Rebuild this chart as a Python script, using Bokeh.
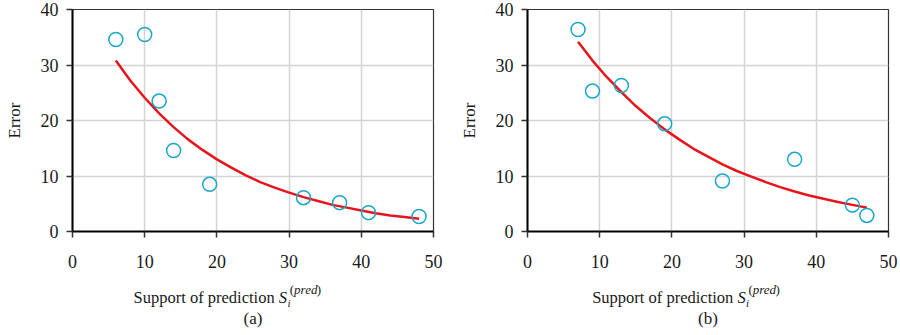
from bokeh.plotting import figure
from bokeh.layouts import row, column
from bokeh.models import Range1d, FixedTicker
from bokeh.core.properties import value
from bokeh.embed import file_html
from bokeh.resources import INLINE

# ---- data (a) ----
a_x = [6, 10, 12, 14, 19, 32, 37, 41, 48]
a_y = [34.6, 35.5, 23.5, 14.6, 8.5, 6.1, 5.2, 3.4, 2.7]
a_fit_x = [6, 8, 10, 12, 14, 16, 18, 20, 22, 24, 26, 28, 30, 32, 34, 36, 38, 40, 42, 44, 46, 48]
a_fit_y = [30.8, 27.2, 24.1, 21.3, 18.8, 16.6, 14.7, 13.0, 11.5, 10.1, 8.9, 7.9, 7.0, 6.2, 5.5,
           4.8, 4.3, 3.8, 3.3, 2.9, 2.6, 2.3]

# ---- data (b) ----
b_x = [7, 9, 13, 19, 27, 37, 45, 47]
b_y = [36.4, 25.3, 26.3, 19.4, 9.1, 13.0, 4.75, 2.9]
b_fit_x = [7, 9, 11, 13, 15, 17, 19, 21, 23, 25, 27, 29, 31, 33, 35, 37, 39, 41, 43, 45, 47]
b_fit_y = [34.2, 30.8, 27.8, 25.1, 22.6, 20.4, 18.4, 16.6, 14.9, 13.5, 12.1, 10.9, 9.9, 8.9,
           8.0, 7.2, 6.5, 5.9, 5.3, 4.8, 4.3]

x_ticks = [0, 10, 20, 30, 40, 50]
y_ticks = [0, 10, 20, 30, 40]
panel_tags = ["(a)", "(b)"]
x_label_words = "Support of prediction"

FONT = "Liberation Serif"
TXT = "#1a1a1a"
MAIN_H = 272
LAB_H = 335 - MAIN_H


def make_panel(xs, ys, fx, fy, tag, left, right, text_x0):
    xr = Range1d(0, 50)
    p = figure(width=450, height=MAIN_H, output_backend="svg", toolbar_location=None,
               x_range=xr, y_range=Range1d(0, 40),
               min_border_left=left, min_border_right=right,
               min_border_top=9, min_border_bottom=MAIN_H - 9 - 222)
    p.outline_line_color = "#333333"
    p.outline_line_width = 1.2

    for ax in (p.xaxis[0], p.yaxis[0]):
        ax.axis_line_color = "black"
        ax.axis_line_width = 2
        ax.major_tick_line_color = "#333333"
        ax.major_tick_line_width = 1.5
        ax.major_tick_in = 0
        ax.major_tick_out = 6
        ax.minor_tick_line_color = None
        ax.major_label_text_font = FONT
        ax.major_label_text_font_size = "18px"
        ax.major_label_text_color = TXT

    p.xaxis.ticker = FixedTicker(ticks=x_ticks)
    p.yaxis.ticker = FixedTicker(ticks=y_ticks)
    p.xaxis.major_label_standoff = 17
    p.yaxis.major_label_standoff = 8

    p.yaxis.axis_label = "Error"
    p.yaxis.axis_label_text_font = FONT
    p.yaxis.axis_label_text_font_style = "normal"
    p.yaxis.axis_label_text_font_size = "17px"
    p.yaxis.axis_label_text_color = TXT
    p.yaxis.axis_label_standoff = 14

    p.xgrid.ticker = FixedTicker(ticks=x_ticks)
    p.ygrid.ticker = FixedTicker(ticks=y_ticks)
    p.grid.grid_line_color = "#d4d4d4"
    p.grid.grid_line_width = 1.5

    p.line(fx, fy, line_color="#e8141c", line_width=2.5)
    p.scatter(xs, ys, marker="circle", size=14, fill_color=None,
              line_color="#1ba6c9", line_width=1.5)

    # label strip below: shares the x range, y in pixels from its top
    lab = figure(width=450, height=LAB_H, output_backend="svg", toolbar_location=None,
                 x_range=xr, y_range=Range1d(LAB_H, 0),
                 x_axis_location=None, y_axis_location=None,
                 min_border_left=left, min_border_right=right,
                 min_border_top=0, min_border_bottom=0)
    lab.grid.visible = False
    lab.outline_line_color = None

    fs = 16.5
    px_per_x = 361 / 50.0
    main_w = 8.805 * fs
    s_x = text_x0 + main_w / px_per_x
    pieces = [
        (text_x0, 25, x_label_words, "normal", "16.5px"),
        (s_x, 25, "S", "italic", "16.5px"),
        (s_x + 8.6 / px_per_x, 30, "i", "italic", "11px"),
        (s_x + 11.0 / px_per_x, 17, "(", "normal", "13px"),
        (s_x + 15.3 / px_per_x, 17, "pred", "italic", "13px"),
        (s_x + 38.0 / px_per_x, 17, ")", "normal", "13px"),
    ]
    for (x, y, t, style, size) in pieces:
        lab.text(x=[x], y=[y], text=[t], text_font=value(FONT), text_font_style=style,
                 text_font_size=value(size), text_color=TXT,
                 text_align="left", text_baseline="alphabetic")
    lab.text(x=[25], y=[46], text=[tag], text_font=value(FONT), text_font_size=value("17px"),
             text_color=TXT, text_align="center", text_baseline="middle")
    return column(p, lab, spacing=0)


pa = make_panel(a_x, a_y, a_fit_x, a_fit_y, panel_tags[0], 72, 17, 8.45)
pb = make_panel(b_x, b_y, b_fit_x, b_fit_y, panel_tags[1], 77, 12, 8.96)

layout = row(pa, pb, spacing=0)
open("out.html", "w").write(file_html(layout, INLINE))
